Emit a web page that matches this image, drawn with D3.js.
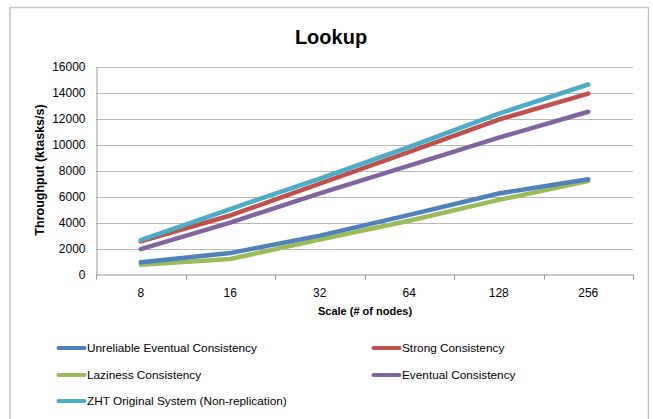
<!DOCTYPE html>
<html><head><meta charset="utf-8">
<script src="https://cdn.jsdelivr.net/npm/d3@7"></script>
<style>
html,body{margin:0;padding:0;background:#fff;}
svg{display:block;font-family:"Liberation Sans",Arial,sans-serif;}
</style></head>
<body>
<svg id="chart" width="653" height="419"></svg>
<script>
const categories = ["8","16","32","64","128","256"];
const seriesNames = ["Unreliable Eventual Consistency","Strong Consistency","Laziness Consistency","Eventual Consistency","ZHT Original System (Non-replication)"];
const unreliable = [950,1650,3000,4600,6250,7350];
const strong = [2550,4550,7000,9450,11950,13950];
const laziness = [750,1200,2700,4150,5750,7200];
const eventual = [1950,4000,6250,8400,10550,12550];
const zht = [2650,5050,7400,9850,12400,14650];
const yTicks = [0,2000,4000,6000,8000,10000,12000,14000,16000];
const colors = ["#4F81BD","#C0504D","#9BBB59","#8064A2","#4BACC6"];

const series = [unreliable,strong,laziness,eventual,zht];
const drawOrder = [2,0,3,1,4];

const svg = d3.select("#chart");
svg.append("rect").attr("x",10).attr("y",7.5).attr("width",638.5).attr("height",430)
  .attr("fill","#fff").attr("stroke","#c6c6c6").attr("stroke-width",1.5);

const L=96,R=633,T=67,B=274.5;
const x = d3.scaleBand().domain(categories).range([L,R]);
const y = d3.scaleLinear().domain([0,16000]).range([B,T]);

// gridlines
svg.append("g").selectAll("line").data(yTicks.filter(d=>d>0)).join("line")
  .attr("x1",L).attr("x2",R).attr("y1",d=>Math.round(y(d))+0.5).attr("y2",d=>Math.round(y(d))+0.5)
  .attr("stroke","#b8b8b8").attr("stroke-width",1);

// y axis
const ya = svg.append("g").attr("transform",`translate(${L+0.5},0)`)
  .call(d3.axisLeft(y).tickValues(yTicks).tickSize(0).tickPadding(11).tickFormat(d3.format("d")));
ya.select(".domain").attr("stroke","#999");
ya.selectAll("text").attr("font-size",12).attr("fill","#000").attr("font-family","Liberation Sans, Arial, sans-serif");

// x axis
const xa = svg.append("g").attr("transform",`translate(0,${B})`)
  .call(d3.axisBottom(x).tickSize(0).tickPadding(14));
xa.select(".domain").attr("stroke","#999");
xa.selectAll("text").attr("font-size",12).attr("fill","#000").attr("font-family","Liberation Sans, Arial, sans-serif");
const bounds = categories.map(c=>x(c)).concat([R]);
xa.append("g").selectAll("line").data(bounds).join("line")
  .attr("x1",d=>Math.round(d)+0.5).attr("x2",d=>Math.round(d)+0.5).attr("y1",0).attr("y2",5)
  .attr("stroke","#999");

// lines
const line = d3.line().x((d,i)=>x(categories[i])+x.bandwidth()/2).y(d=>y(d));
svg.append("g").selectAll("path").data(drawOrder).join("path")
  .attr("d",i=>line(series[i])).attr("fill","none").attr("stroke",i=>colors[i])
  .attr("stroke-width",4.5).attr("stroke-linecap","round").attr("stroke-linejoin","round");

// title
svg.append("text").attr("x",331).attr("y",44).attr("text-anchor","middle")
  .attr("font-size",20).attr("font-weight","bold").text("Lookup");

// axis titles
svg.append("text").attr("x",365).attr("y",315).attr("text-anchor","middle")
  .attr("font-size",11).attr("font-weight","bold").text("Scale (# of nodes)");
svg.append("text").attr("transform","translate(44,170) rotate(-90)").attr("text-anchor","middle")
  .attr("font-size",12.5).attr("font-weight","bold").text("Throughput (ktasks/s)");

// legend
const legPos = [[57,348],[372,348],[57,375],[372,375],[57,401]];
const lg = svg.append("g").selectAll("g").data(seriesNames).join("g")
  .attr("transform",(d,i)=>`translate(${legPos[i][0]},${legPos[i][1]})`);
lg.append("line").attr("x1",1.5).attr("x2",27.5).attr("y1",0).attr("y2",0)
  .attr("stroke",(d,i)=>colors[i]).attr("stroke-width",4).attr("stroke-linecap","round");
lg.append("text").attr("x",30).attr("y",4).attr("font-size",11.8).text(d=>d);
</script>
</body></html>
